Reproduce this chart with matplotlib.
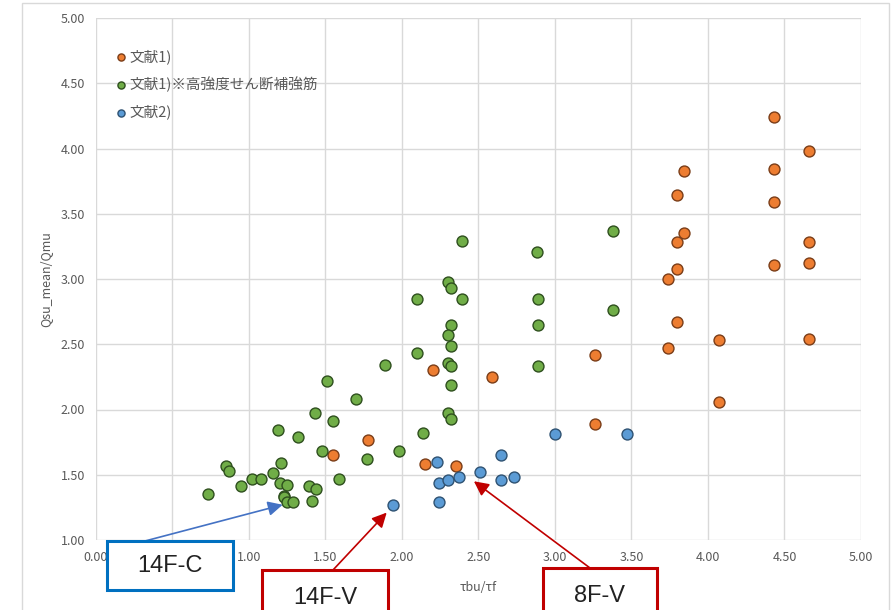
import matplotlib
matplotlib.use("Agg")
import matplotlib.pyplot as plt
from matplotlib.patches import Rectangle

plt.rcParams['font.family'] = ['Noto Sans CJK JP', 'DejaVu Sans']

# 文献1)
ref1_x = [4.43, 4.66, 4.43, 3.84, 3.80, 4.43, 3.84, 3.80, 4.66, 3.80, 4.43, 4.66,
          3.74, 3.80, 4.07, 4.66, 3.74, 3.26, 4.07, 3.26, 2.20, 2.59, 1.78, 1.55,
          2.15, 2.35]
ref1_y = [4.24, 3.98, 3.84, 3.83, 3.64, 3.59, 3.35, 3.28, 3.28, 3.08, 3.11, 3.12,
          3.00, 2.67, 2.53, 2.54, 2.47, 2.42, 2.06, 1.89, 2.30, 2.25, 1.77, 1.65,
          1.58, 1.57]

# 文献1)※高強度せん断補強筋
ref1h_x = [2.39, 2.30, 2.32, 2.39, 2.10, 2.32, 2.30, 2.32, 2.10, 1.89, 2.30, 2.32,
           2.32, 1.51, 1.70, 1.43, 1.55, 2.30, 2.32, 1.19, 1.32, 2.14, 1.48, 1.98,
           1.77, 1.21, 3.38, 3.38, 2.88, 2.89, 2.89, 2.89, 0.85, 0.87, 1.16, 1.02,
           1.08, 0.95, 1.20, 1.25, 1.39, 1.44, 1.59, 0.73, 1.23, 1.23, 1.25, 1.29,
           1.41]
ref1h_y = [3.29, 2.98, 2.93, 2.85, 2.85, 2.65, 2.57, 2.49, 2.43, 2.34, 2.36, 2.33,
           2.19, 2.22, 2.08, 1.97, 1.91, 1.97, 1.93, 1.84, 1.79, 1.82, 1.68, 1.68,
           1.62, 1.59, 3.37, 2.76, 3.21, 2.85, 2.65, 2.33, 1.57, 1.53, 1.51, 1.47,
           1.47, 1.41, 1.44, 1.42, 1.41, 1.39, 1.47, 1.35, 1.34, 1.33, 1.29, 1.29,
           1.30]

# 文献2)
ref2_x = [2.23, 2.24, 2.30, 2.37, 2.51, 2.65, 2.65, 2.73, 3.00, 3.47, 2.24, 1.94]
ref2_y = [1.60, 1.44, 1.46, 1.48, 1.52, 1.65, 1.46, 1.48, 1.81, 1.81, 1.29, 1.27]

callout_labels = ['14F-C', '14F-V', '8F-V']
callout_tips = [(1.22, 1.27), (1.90, 1.21), (2.47, 1.45)]

W, H = 895, 610
fig = plt.figure(figsize=(W / 100, H / 100), dpi=100)
ax = fig.add_axes([96 / W, 1 - 540 / H, 765 / W, 522 / H])

# outer chart-area frame
fig.patches.append(Rectangle((22 / W, -0.05), (889 - 22) / W, 1.05 - 3 / H,
                             transform=fig.transFigure, fill=False,
                             edgecolor='#d9d9d9', linewidth=1.0))

ms = 62
ax.scatter(ref1_x, ref1_y, s=ms, color='#ED7D31', edgecolor='#7a3d18',
           linewidth=1.0, label='文献1)', zorder=3)
ax.scatter(ref1h_x, ref1h_y, s=ms, color='#70AD47', edgecolor='#2e4f1e',
           linewidth=1.0, label='文献1)※高強度せん断補強筋', zorder=3)
ax.scatter(ref2_x, ref2_y, s=ms, color='#5B9BD5', edgecolor='#2f5272',
           linewidth=1.0, label='文献2)', zorder=3)

ax.set_xlim(0, 5)
ax.set_ylim(1, 5)
ax.set_xticks([i * 0.5 for i in range(11)])
ax.set_yticks([1 + i * 0.5 for i in range(9)])
ax.set_xticklabels([f'{i * 0.5:.2f}' for i in range(11)])
ax.set_yticklabels([f'{1 + i * 0.5:.2f}' for i in range(9)])
ax.grid(True, color='#d9d9d9', linewidth=1.0)
ax.set_axisbelow(True)
for s in ax.spines.values():
    s.set_visible(False)
ax.tick_params(length=0, labelsize=9, colors='#595959', pad=8)
ax.set_xlabel('τbu/τf', fontsize=9, color='#595959', labelpad=12)
ax.set_ylabel('Qsu_mean/Qmu', fontsize=9, color='#595959', labelpad=6)

leg = ax.legend(loc='upper left', bbox_to_anchor=(0.004, 0.965), frameon=False,
                fontsize=10.5, markerscale=0.65, handletextpad=0.0,
                handlelength=1.2, labelspacing=0.85, labelcolor='#595959')

# callout boxes (figure pixels: left, top, right, bottom)
boxes = [(107, 541, 233, 590), (262, 570, 388, 625), (543, 568, 657, 625)]
anchors = [(145, 541), (333, 570), (590, 568)]
box_cols = ['#0070C0', '#C00000', '#C00000']
arrow_cols = ['#4472C4', '#C00000', '#C00000']
text_y = [566, 598, 596]
for lab, tip, (l, t, r, b), (axp, ayp), bc, acol, ty in zip(
        callout_labels, callout_tips, boxes, anchors, box_cols, arrow_cols, text_y):
    fig.patches.append(Rectangle((l / W, 1 - b / H), (r - l) / W, (b - t) / H,
                                 transform=fig.transFigure, facecolor='white',
                                 edgecolor=bc, linewidth=2.2, zorder=5))
    fig.text((l + r) / 2 / W, 1 - ty / H, lab, ha='center', va='center',
             fontsize=17, color='#222222', family='Liberation Sans', zorder=6)
    ax.annotate('', xy=tip, xycoords='data',
                xytext=(axp / W, 1 - ayp / H), textcoords='figure fraction',
                arrowprops=dict(arrowstyle='-|>', color=acol, lw=1.2,
                                mutation_scale=22, shrinkA=0, shrinkB=0),
                annotation_clip=False, zorder=4)

fig.savefig('out.png', dpi=100)
